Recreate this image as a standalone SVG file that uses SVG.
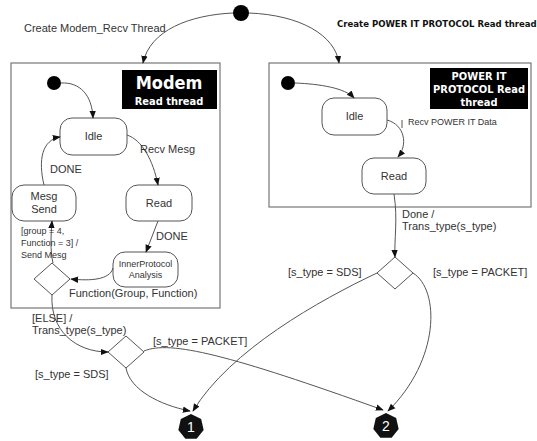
<svg xmlns="http://www.w3.org/2000/svg" width="537" height="441" viewBox="0 0 537 441">
<style>
.t{font-family:"Liberation Sans",Arial,sans-serif;fill:#333;font-size:11px}
.s{font-size:9px}
.c{text-anchor:middle}
.b{font-family:"DejaVu Sans Condensed","DejaVu Sans",sans-serif;font-weight:bold}
.box{fill:#fff;stroke:#777;stroke-width:1.2}
.st{fill:#fff;stroke:#555;stroke-width:1}
.e{fill:none;stroke:#555;stroke-width:1;marker-end:url(#a)}
</style>
<defs>
<marker id="a" viewBox="0 0 10 10" refX="9" refY="5" markerWidth="8" markerHeight="8" markerUnits="userSpaceOnUse" orient="auto">
<path d="M0,1L10,5L0,9z" fill="#111"/>
</marker>
<polygon id="hep" points="0,-13 10.16,-8.11 12.67,2.89 5.64,11.71 -5.64,11.71 -12.67,2.89 -10.16,-8.11" fill="#111"/>
</defs>
<rect width="537" height="441" fill="#fff"/>

<g id="modem-thread">
<rect class="box" x="11" y="63" width="209" height="245"/>
<rect x="122" y="70" width="95" height="39" fill="#000"/>
<text class="b c" x="169" y="89" font-size="18" fill="#fff">Modem</text>
<text class="b c" x="169" y="105" font-size="11" fill="#fff">Read thread</text>
</g>
<g id="power-thread">
<rect class="box" x="269" y="63" width="262" height="144"/>
<rect x="430" y="68" width="98" height="41" fill="#000"/>
<text class="b c" x="479" y="80" font-size="11" fill="#fff">POWER IT</text>
<text class="b c" x="479" y="93" font-size="11" fill="#fff">PROTOCOL Read</text>
<text class="b c" x="479" y="106" font-size="11" fill="#fff">thread</text>
</g>

<g id="start"><circle cx="241" cy="13" r="8" fill="#000"/></g>
<g id="m-start"><circle cx="54" cy="83" r="7" fill="#000"/></g>
<g id="p-start"><circle cx="288" cy="83" r="7" fill="#000"/></g>

<g id="m-idle"><rect class="st" x="60" y="118" width="67" height="37" rx="12"/><text class="t c" x="93.5" y="140">Idle</text></g>
<g id="m-read"><rect class="st" x="126" y="185" width="66" height="36" rx="12"/><text class="t c" x="159" y="207">Read</text></g>
<g id="m-send"><rect class="st" x="12" y="185" width="64" height="36" rx="12"/><text class="t c" x="44" y="200">Mesg</text><text class="t c" x="44" y="213">Send</text></g>
<g id="m-inner"><rect class="st" x="113" y="252" width="65" height="35" rx="12"/><text class="t s c" x="145.5" y="267">InnerProtocol</text><text class="t s c" x="145.5" y="278">Analysis</text></g>
<g id="m-dec"><polygon class="st" points="52,263 70,279 52,295 34,279"/></g>
<g id="dec2"><polygon class="st" points="126,336 144,352 126,368 108,352"/></g>

<g id="p-idle"><rect class="st" x="322" y="98" width="65" height="37" rx="12"/><text class="t c" x="354.5" y="120">Idle</text></g>
<g id="p-read"><rect class="st" x="362" y="158" width="64" height="36" rx="12"/><text class="t c" x="394" y="180">Read</text></g>
<g id="p-dec"><polygon class="st" points="395,257 413,273 395,289 377,273"/></g>

<g id="n1"><use href="#hep" x="191" y="427"/><text x="191" y="432" class="c" font-family="Liberation Sans,sans-serif" font-size="14" fill="#fff">1</text></g>
<g id="n2"><use href="#hep" x="386" y="426"/><text x="386" y="431" class="c" font-family="Liberation Sans,sans-serif" font-size="14" fill="#fff">2</text></g>

<g id="connectors">
<path class="e" d="M233,13 C190,15 150,30 143,63"/>
<path class="e" d="M249,13 C300,15 335,35 339,63"/>
<path class="e" d="M61,83 C80,82 92,95 93,118"/>
<path class="e" d="M127,135 C142,140 153,160 158,185"/>
<path class="e" d="M158,221 L146,252"/>
<path class="e" d="M113,268 C110,280 90,281 71,279"/>
<path class="e" d="M53,263 C50,250 51,235 52,221"/>
<path class="e" d="M44,185 C38,160 42,140 60,137"/>
<path class="e" d="M52,295 C50,330 75,352 108,352"/>
<path class="e" d="M126,368 C130,390 160,405 190,411"/>
<path class="e" d="M144,351 C170,340 230,355 383,410"/>
<path class="e" d="M377,273 C320,300 230,350 193,411"/>
<path class="e" d="M413,273 C440,290 440,360 388,411"/>
<path class="e" d="M295,83 C320,84 345,88 354,98"/>
<path class="e" d="M387,120 C405,125 408,145 398,157"/>
<path class="e" d="M394,194 C398,220 394,240 395,257"/>
<path d="M402,120 L402,128" stroke="#555" stroke-width="1"/>
</g>

<g id="labels">
<text class="t" x="24" y="32">Create Modem_Recv Thread</text>
<text class="b" x="337" y="27" style="font-size:9.5px" fill="#111">Create POWER IT PROTOCOL Read thread</text>
<text class="t" x="140" y="153">Recv Mesg</text>
<text class="t" x="50" y="173">DONE</text>
<text class="t" x="156" y="240">DONE</text>
<text class="t s" x="21" y="234">[group = 4,</text>
<text class="t s" x="21" y="246">Function = 3] /</text>
<text class="t s" x="21" y="258">Send Mesg</text>
<text class="t" x="69" y="297">Function(Group, Function)</text>
<text class="t" x="32" y="322">[ELSE] /</text>
<text class="t" x="32" y="334">Trans_type(s_type)</text>
<text class="t" x="153" y="345">[s_type = PACKET]</text>
<text class="t" x="35" y="378">[s_type = SDS]</text>
<text class="t s" x="408" y="125">Recv POWER IT Data</text>
<text class="t" x="402" y="218">Done /</text>
<text class="t" x="402" y="230">Trans_type(s_type)</text>
<text class="t" x="288" y="276">[s_type = SDS]</text>
<text class="t" x="433" y="276">[s_type = PACKET]</text>
</g>
</svg>
